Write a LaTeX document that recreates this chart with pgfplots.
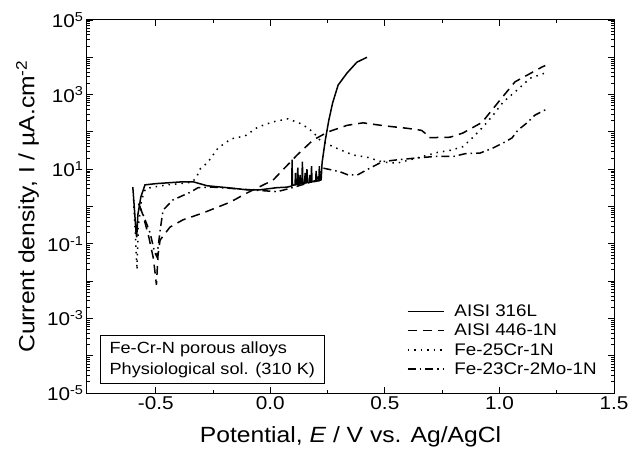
\documentclass[border=0pt]{standalone}
\usepackage{fontspec}
\setmainfont{Liberation Sans}[FakeStretch=1.12]
\usepackage{pgfplots}
\pgfplotsset{compat=1.18}

\begin{document}
\begin{tikzpicture}
\begin{axis}[
    scale only axis,
    width=527pt, height=373pt,
    xmin=-0.8, xmax=1.5,
    ymode=log, ymin=1e-5, ymax=1e5,
    xtick={-0.5,0,0.5,1,1.5},
    xticklabels={-0.5,0.0,0.5,1.0,1.5},
    minor x tick num=1,
    ytickten={-5,-4,...,5},
    yticklabels={10\textsuperscript{-5},,10\textsuperscript{-3},,10\textsuperscript{-1},,10\textsuperscript{1},,10\textsuperscript{3},,10\textsuperscript{5}},
    tick align=inside,
    major tick length=6pt, minor tick length=3pt,
    tick style={line width=0.8pt, black},
    axis line style={line width=1pt},
    tick label style={font=\fontsize{18.5}{21}\selectfont},
    label style={font=\fontsize{22}{25}\selectfont},
    xlabel={Potential, \textit{E} / V vs. Ag/AgCl},
    ylabel={Current density, I / µA.cm\textsuperscript{-2}},
    xlabel style={at={(axis description cs:0.5,-0.118)}, anchor=center},
    ylabel style={at={(axis description cs:-0.113,0.5)}, anchor=center},
    legend style={draw=none, fill=none, at={(0.977,0.035)}, anchor=south east,
        font=\fontsize{16.8}{19}\selectfont, row sep=2pt},
    legend cell align=left,
    legend image code/.code={\draw[#1, line width=1.5pt] (0pt,0pt) -- (36pt,0pt); \path (44pt,0pt);},
    every axis plot/.append style={line width=1.5pt, black},
    clip=false,
]
\addplot[solid] coordinates {
(-0.600,3.3) (-0.592,0.7) (-0.586,0.2) (-0.583,0.15) (-0.578,0.6) (-0.565,1.8)
(-0.547,3.8) (-0.500,4.1) (-0.451,4.3) (-0.381,4.6) (-0.337,4.6) (-0.276,3.6)
(-0.189,3.2) (-0.102,2.8) (-0.045,2.8) (0.029,3.2) (0.073,3.3) (0.090,3.5)
(0.094,3.6) (0.095,18) (0.097,3.7) (0.108,3.8) (0.110,8) (0.112,3.9) (0.118,3.9) (0.120,11) (0.122,4.0)
(0.128,4.0) (0.130,7) (0.132,4.1)
(0.138,4.1) (0.140,16) (0.142,4.2) (0.150,4.2) (0.152,8) (0.154,4.3) (0.158,4.3) (0.160,10) (0.162,4.4)
(0.170,4.4) (0.172,7) (0.174,4.5)
(0.178,4.5) (0.180,12) (0.182,4.6) (0.198,4.7) (0.200,9) (0.202,4.8)
(0.212,4.9) (0.214,12) (0.216,5.0) (0.222,5.2) (0.226,15) (0.240,60)
(0.255,200) (0.272,600) (0.296,1800) (0.335,3800) (0.378,7400) (0.422,10000)
};
\addlegendentry{AISI 316L}
\addplot[dash pattern=on 9pt off 6pt] coordinates {
(-0.570,1.0) (-0.556,0.6) (-0.530,0.15) (-0.510,0.04) (-0.497,0.008) (-0.490,0.05)
(-0.481,0.126) (-0.438,0.28) (-0.381,0.44) (-0.294,0.67) (-0.176,1.3) (-0.102,2.3)
(0.012,5.1) (0.117,24) (0.186,60) (0.252,100) (0.335,150) (0.405,175)
(0.500,145) (0.597,125) (0.660,110) (0.675,93) (0.690,70) (0.785,72)
(0.840,93) (0.924,180) (1.003,720) (1.068,2200) (1.186,5500) (1.200,6000)
};
\addlegendentry{AISI 446-1N}
\addplot[dash pattern=on 1.5pt off 5pt] coordinates {
(-0.597,1.5) (-0.588,0.15) (-0.582,0.02) (-0.576,0.3) (-0.562,1.5) (-0.545,3.0)
(-0.500,3.4) (-0.450,3.8) (-0.380,4.2) (-0.340,4.5) (-0.320,6.5) (-0.307,10)
(-0.272,15.5) (-0.228,37) (-0.171,65) (-0.110,78) (-0.054,135) (0.012,186)
(0.077,224) (0.138,162) (0.186,100) (0.217,60) (0.274,40) (0.361,24)
(0.422,21) (0.492,15.5) (0.553,14.5) (0.640,20) (0.728,28) (0.785,32)
(0.840,40) (0.885,72) (0.928,135) (0.972,280) (1.016,630) (1.077,1320)
(1.134,2750) (1.200,3800)
};
\addlegendentry{Fe-25Cr-1N}
\addplot[dash pattern=on 8pt off 4pt on 1.5pt off 4pt] coordinates {
(-0.575,1.2) (-0.550,0.5) (-0.525,0.2) (-0.505,0.06) (-0.495,0.045) (-0.480,0.25)
(-0.468,0.8) (-0.425,1.5) (-0.350,2.4) (-0.315,3.2) (-0.250,3.3) (-0.150,3.0)
(-0.050,2.7) (0.030,2.5) (0.080,3.0) (0.150,4.0) (0.200,5.0) (0.230,10.7)
(0.270,9.5) (0.305,8.5) (0.340,7.0) (0.380,7.0) (0.435,10.7) (0.490,16)
(0.560,18) (0.640,20) (0.720,22) (0.800,22) (0.850,26) (0.915,27)
(0.972,37) (1.025,54) (1.055,69) (1.081,112) (1.120,174) (1.155,282)
(1.200,390)
};
\addlegendentry{Fe-23Cr-2Mo-1N}
\node[draw, line width=0.8pt, anchor=south west, align=left, inner xsep=9pt,
      inner ysep=6pt, font=\fontsize{16.2}{21}\selectfont]
      at (rel axis cs:0.025,0.024) {Fe-Cr-N porous alloys\\Physiological sol. (310 K)};
\coordinate (bl) at (rel axis cs:0,0);
\coordinate (tr) at (rel axis cs:1,1);
\end{axis}
\path ([shift={(-87pt,-59pt)}]bl) rectangle ([shift={(25pt,20pt)}]tr);
\end{tikzpicture}
\end{document}
